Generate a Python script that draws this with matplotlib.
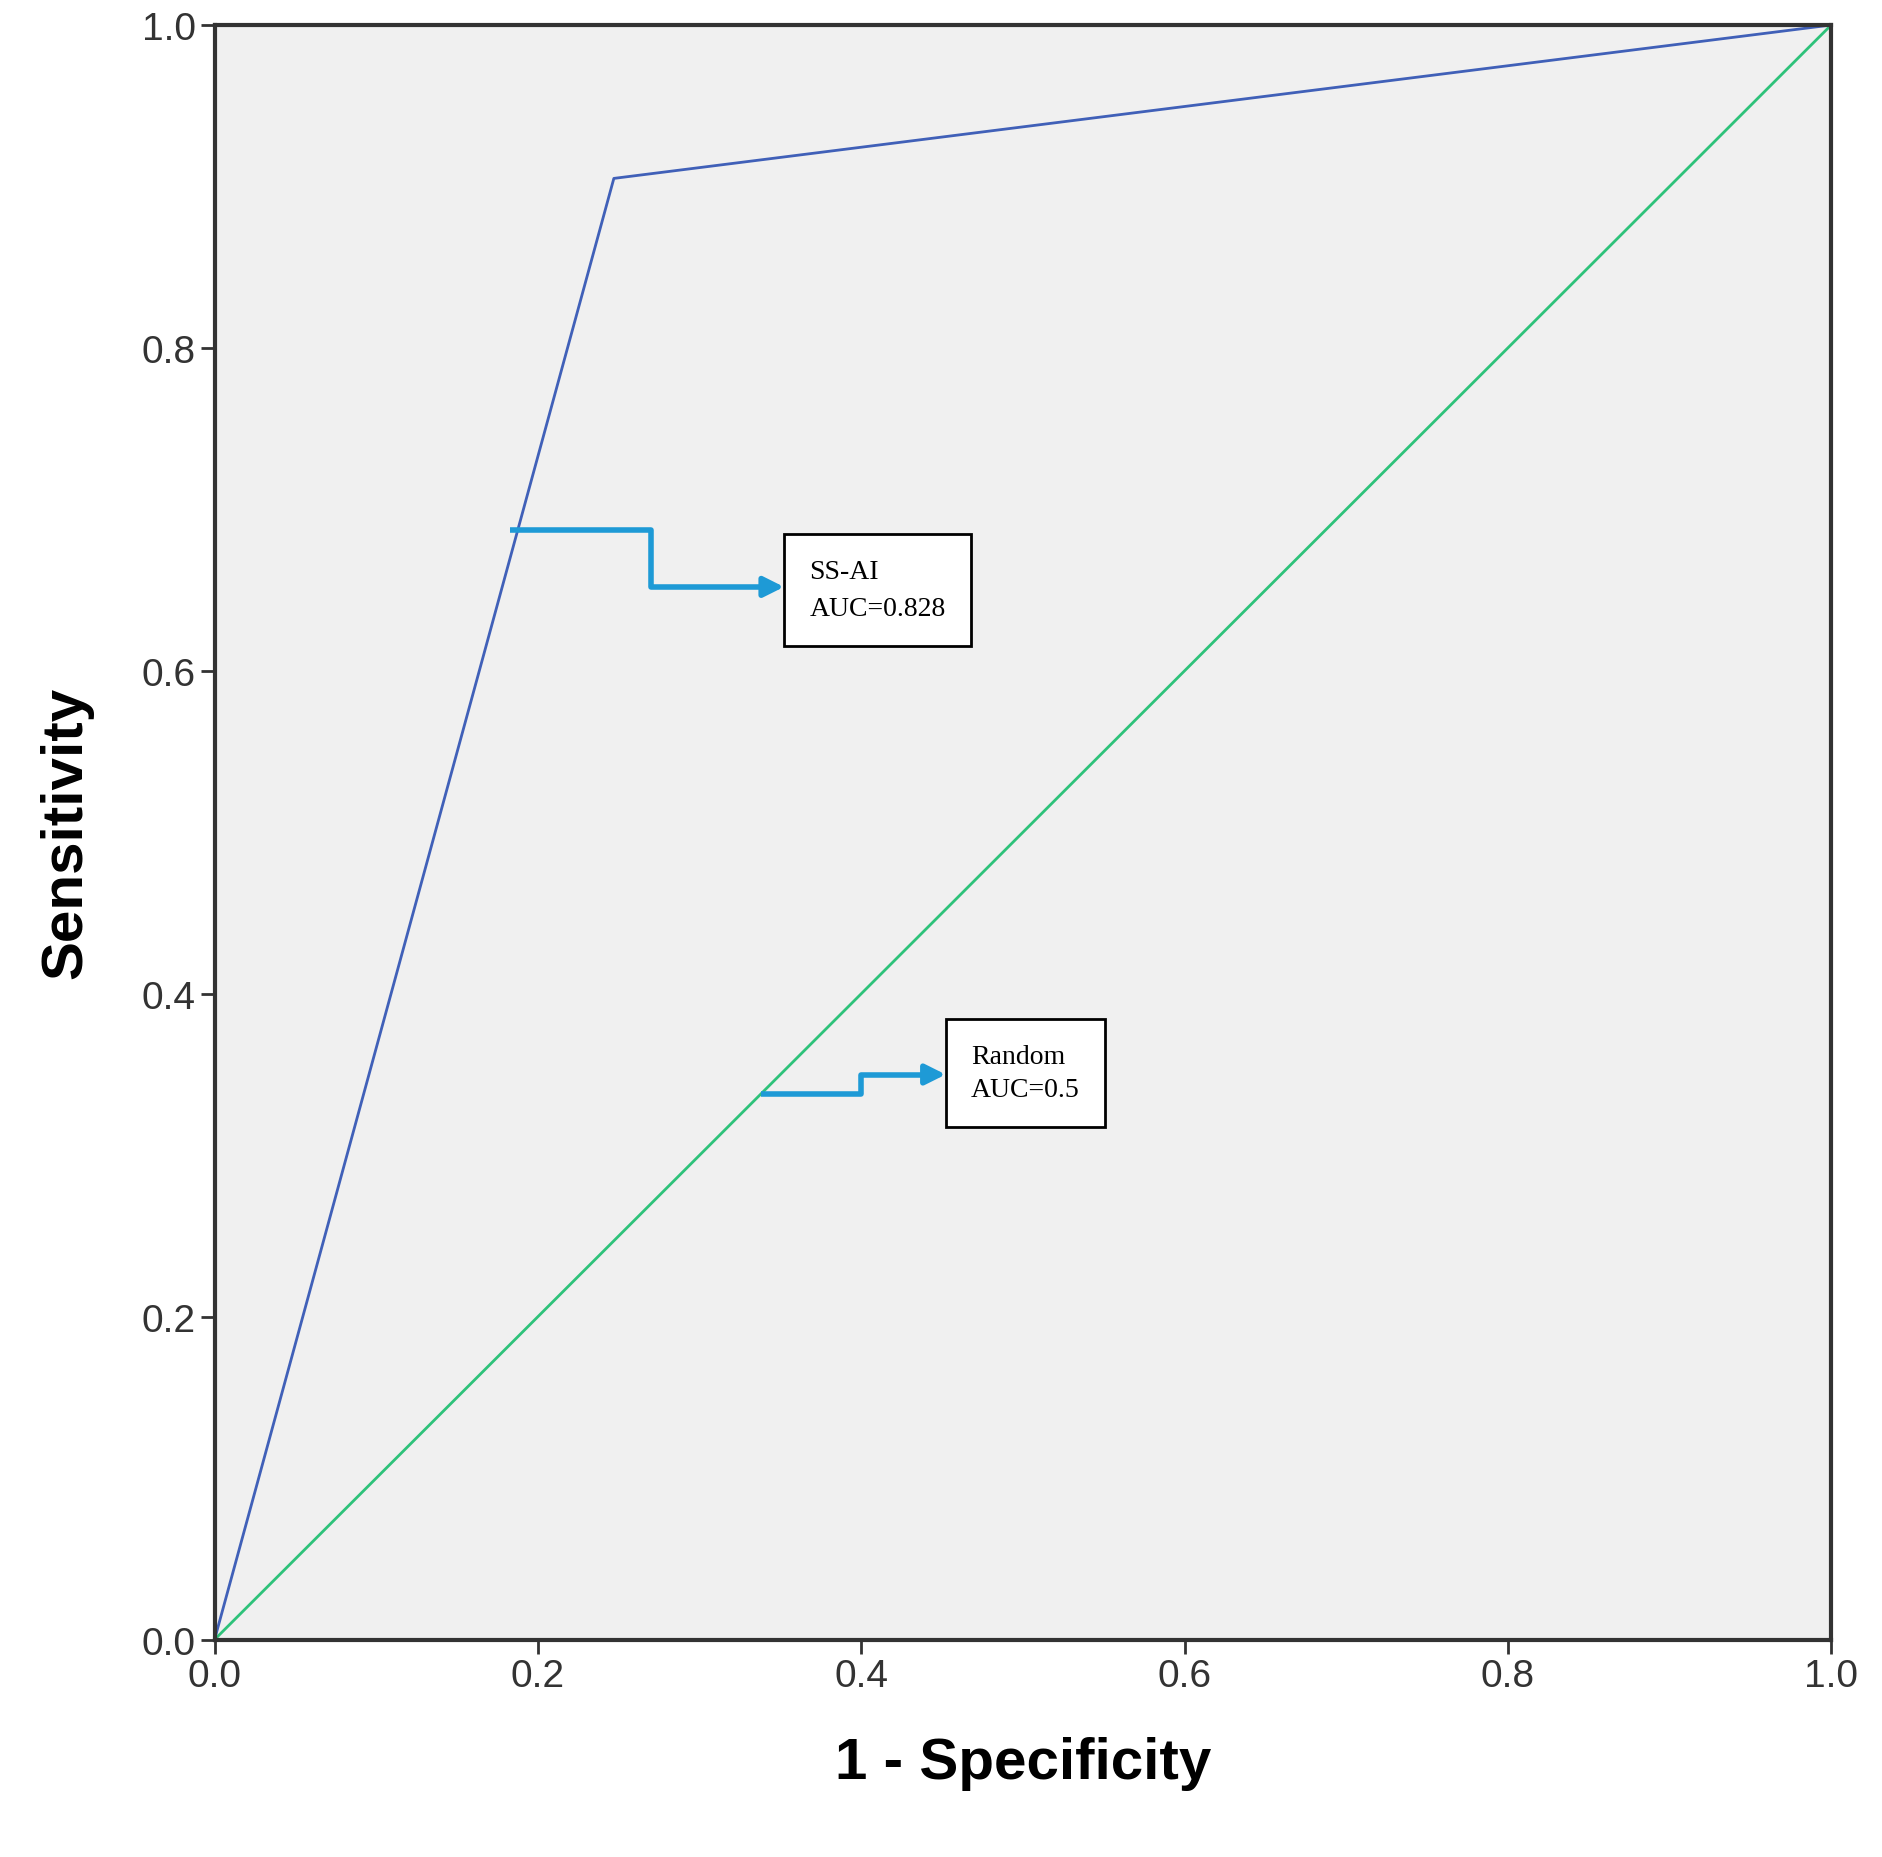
import matplotlib.pyplot as plt

plt.rcParams['font.family'] = ['Liberation Sans', 'DejaVu Sans']

# --- Données ---
roc_x = [0.0, 0.247, 1.0]
roc_y = [0.0, 0.905, 1.0]
ref_x = [0.0, 1.0]
ref_y = [0.0, 1.0]
ticks = [0.0, 0.2, 0.4, 0.6, 0.8, 1.0]

# fleches coudees (x, y) des annotations
arrow_ss = ([0.183, 0.27, 0.27, 0.34], [0.687, 0.687, 0.652, 0.652])
arrow_rand = ([0.338, 0.40, 0.40, 0.44], [0.338, 0.338, 0.35, 0.35])

fig = plt.figure(figsize=(18.82, 18.58), dpi=100)
ax = fig.add_axes([0.114, 0.117, 0.859, 0.869])
ax.set_facecolor('#f0f0f0')

ax.plot(roc_x, roc_y, color='#4060b8', lw=2)
ax.plot(ref_x, ref_y, color='#2ec27a', lw=2)

ax.set_xlim(0, 1)
ax.set_ylim(0, 1)
ax.set_xticks(ticks)
ax.set_yticks(ticks)
ax.set_xticklabels([f"{t:.1f}" for t in ticks])
ax.set_yticklabels([f"{t:.1f}" for t in ticks])
ax.tick_params(labelsize=28, length=10, width=2, colors='#333333')
for s in ax.spines.values():
    s.set_linewidth(3)
    s.set_color('#333333')

ax.set_xlabel('1 - Specificity', fontsize=42, fontweight='bold', labelpad=30)
ax.set_ylabel('Sensitivity', fontsize=42, fontweight='bold', labelpad=35)

# --- Annotations ---
for xs, ys in (arrow_ss, arrow_rand):
    ax.plot(xs, ys, color='#1e9ad6', lw=4, solid_capstyle='butt')
    ax.annotate('', xy=(xs[-1] + 0.014, ys[-1]), xytext=(xs[-1] - 0.002, ys[-1]),
                arrowprops=dict(arrowstyle='-|>', color='#1e9ad6', lw=4, mutation_scale=30))

box = dict(boxstyle='square,pad=0.9', facecolor='white', edgecolor='black', lw=2)
ax.text(0.368, 0.65, 'SS-AI\nAUC=0.828', fontsize=20, family='Liberation Serif',
        va='center', ha='left', bbox=box, linespacing=1.6)
ax.text(0.468, 0.351, 'Random\nAUC=0.5', fontsize=20, family='Liberation Serif',
        va='center', ha='left', bbox=box, linespacing=1.4)

fig.savefig('out.png', dpi=100)
